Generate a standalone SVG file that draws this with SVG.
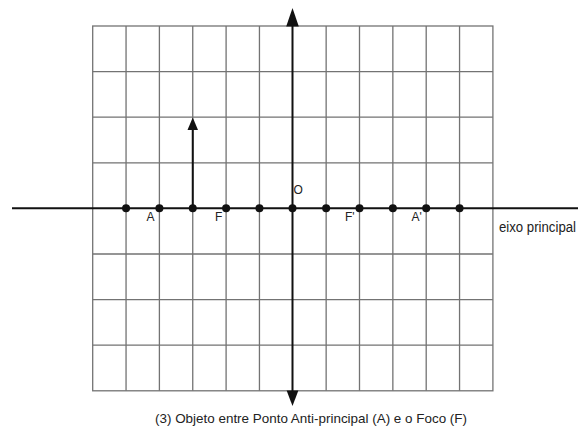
<svg xmlns="http://www.w3.org/2000/svg" width="583" height="429" viewBox="0 0 583 429">
<style>
.grid{stroke:#737373;stroke-width:1.3;fill:none}
.axis{stroke:#111;stroke-width:2;fill:none}
.dot{fill:#111}
.lbl{font-family:"Liberation Sans",Arial,sans-serif;font-size:12px;fill:#222}
.cap{font-family:"Liberation Sans",Arial,sans-serif;font-size:13px;fill:#222}
</style>
<rect width="583" height="429" fill="#fff"/>
<g id="grid" class="grid">
<rect x="92.7" y="26" width="400.2" height="364.8"/>
<path d="M126.05,26V390.8M159.4,26V390.8M192.75,26V390.8M226.1,26V390.8M259.45,26V390.8M326.15,26V390.8M359.5,26V390.8M392.85,26V390.8M426.2,26V390.8M459.55,26V390.8"/>
<path d="M92.7,71.6H492.9M92.7,117.2H492.9M92.7,162.8H492.9M92.7,254H492.9M92.7,299.6H492.9M92.7,345.2H492.9"/>
</g>
<g id="connectors">
<line class="axis" x1="12" y1="208.3" x2="578" y2="208.3"/>
<path class="axis" d="M292.5,18 V396"/>
<path d="M286.2,26.5 L292.5,8 L298.8,26.5 Z" fill="#111"/>
<path d="M286.6,390.5 L292.5,406 L298.4,390.5 Z" fill="#111"/>
<line class="axis" x1="192.75" y1="208.3" x2="192.75" y2="126"/>
<path d="M187.5,130 L192.75,117.5 L198,130 Z" fill="#111"/>
</g>
<g id="points">
<circle class="dot" cx="126.05" cy="208.3" r="4"/>
<circle class="dot" cx="159.4" cy="208.3" r="4"/>
<circle class="dot" cx="192.75" cy="208.3" r="4"/>
<circle class="dot" cx="226.1" cy="208.3" r="4"/>
<circle class="dot" cx="259.45" cy="208.3" r="4"/>
<circle class="dot" cx="292.5" cy="208.3" r="4"/>
<circle class="dot" cx="326.15" cy="208.3" r="4"/>
<circle class="dot" cx="359.5" cy="208.3" r="4"/>
<circle class="dot" cx="392.85" cy="208.3" r="4"/>
<circle class="dot" cx="426.2" cy="208.3" r="4"/>
<circle class="dot" cx="459.55" cy="208.3" r="4"/>
</g>
<g id="labels">
<text class="lbl" x="146.5" y="220.5">A</text>
<text class="lbl" x="215" y="220.5">F</text>
<text class="lbl" x="345" y="220.5">F'</text>
<text class="lbl" x="411.5" y="220.5">A'</text>
<text class="lbl" x="293.5" y="193.5">O</text>
<text class="lbl" x="499" y="232" style="font-size:14px" textLength="77" lengthAdjust="spacingAndGlyphs">eixo principal</text>
<text class="cap" x="155" y="422.5" textLength="312" lengthAdjust="spacingAndGlyphs">(3) Objeto entre Ponto Anti-principal (A) e o Foco (F)</text>
</g>
</svg>
